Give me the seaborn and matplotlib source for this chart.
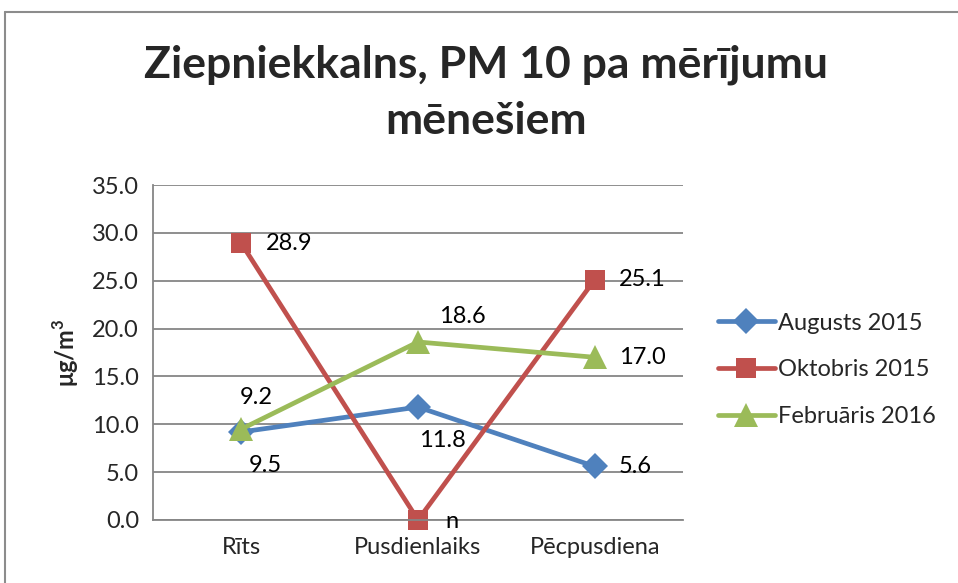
import matplotlib
matplotlib.use('Agg')
import matplotlib.pyplot as plt
from matplotlib.lines import Line2D
import seaborn as sns
import pandas as pd

# Dati
laiki = ['Rīts', 'Pusdienlaiks', 'Pēcpusdiena']
serijas = ['Augusts 2015', 'Oktobris 2015', 'Februāris 2016']
augusts = [9.2, 11.8, 5.6]
oktobris = [28.9, 0.0, 25.1]
februaris = [9.5, 18.6, 17.0]
etiketes = {
    'Augusts 2015': ['9.2', '11.8', '5.6'],
    'Oktobris 2015': ['28.9', 'n', '25.1'],
    'Februāris 2016': ['9.5', '18.6', '17.0'],
}
# etiķešu nobīdes pikseļos (x, y)
nobides = {
    'Augusts 2015': [(15, 34), (24, -33), (41, 0)],
    'Oktobris 2015': [(48, 0), (34, -2), (48, 0)],
    'Februāris 2016': [(24, -36), (44, 25), (48, 0)],
}

krasas = {'Augusts 2015': '#4F81BD', 'Oktobris 2015': '#C0504D', 'Februāris 2016': '#9BBB59'}
markeri = {'Augusts 2015': 'D', 'Oktobris 2015': 's', 'Februāris 2016': '^'}
izmeri = {'Augusts 2015': 13, 'Oktobris 2015': 15, 'Februāris 2016': 17}

df = pd.DataFrame({
    'laiks': laiki * 3,
    'vertiba': augusts + oktobris + februaris,
    'serija': [s for s in serijas for _ in laiki],
})

sns.set_style('white')
plt.rcParams['font.family'] = ['Lato', 'DejaVu Sans']
FS = 17

fig = plt.figure(figsize=(9.58, 5.83), dpi=100)
ax = fig.add_axes([153 / 958, 1 - 520 / 583, 530 / 958, 335 / 583])

ax.yaxis.grid(True, color='#868686', linewidth=1.3)
ax.set_axisbelow(True)

for s in serijas:
    d = df[df['serija'] == s]
    sns.lineplot(data=d, x='laiks', y='vertiba', ax=ax, color=krasas[s], linewidth=3.4,
                 marker=markeri[s], markersize=izmeri[s], markeredgewidth=0,
                 label=s, sort=False, clip_on=False)
    for i, (v, t) in enumerate(zip(d['vertiba'], etiketes[s])):
        dx, dy = nobides[s][i]
        ax.annotate(t, (i, v), xytext=(dx, dy), textcoords='offset pixels',
                    ha='center', va='center', fontsize=FS, color='black')

ax.set_xlim(-0.5, 2.5)
ax.set_ylim(0, 35)
ax.set_yticks(range(0, 36, 5))
ax.set_yticklabels([f'{v:.1f}' for v in range(0, 36, 5)])
ax.tick_params(axis='both', labelsize=FS, length=0, pad=10)
ax.tick_params(axis='x', pad=12)
ax.set_xlabel('')
ax.set_ylabel('μg/m$^\\mathregular{3}$', fontsize=FS, fontweight='bold', labelpad=8)

for side in ['top', 'right']:
    ax.spines[side].set_visible(False)
for side in ['left', 'bottom']:
    ax.spines[side].set_color('#868686')
    ax.spines[side].set_linewidth(1.3)

leg = ax.legend(loc='center left', bbox_to_anchor=(718 / 958, 1 - 370 / 583),
                bbox_transform=fig.transFigure, frameon=False, fontsize=FS,
                handlelength=2.4, handletextpad=0.15, labelspacing=1.1,
                borderaxespad=0, borderpad=0)

fig.text(486 / 958, 1 - 93 / 583, 'Ziepniekkalns, PM 10 pa mērījumu\nmēnešiem',
         ha='center', va='center', fontsize=32, fontweight='bold', linespacing=1.5)

# rāmis
fig.add_artist(Line2D([5 / 958, 1], [1 - 12 / 583, 1 - 12 / 583], color='#8c8c8c', linewidth=1.5))
fig.add_artist(Line2D([5 / 958, 5 / 958], [0, 1 - 12 / 583], color='#8c8c8c', linewidth=1.5))

fig.savefig('out.png', dpi=100)
